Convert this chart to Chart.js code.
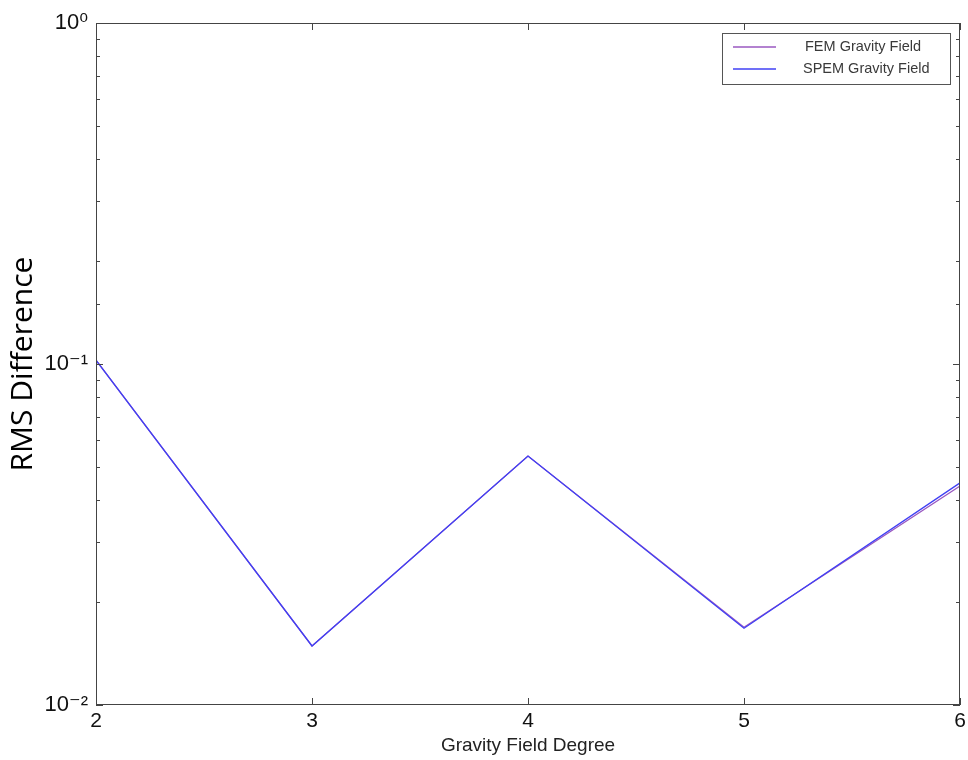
<!DOCTYPE html>
<html lang="en">
<head>
    <meta charset="UTF-8">
    <title>RMS Difference vs Gravity Field Degree</title>
    <style>
        body {
            margin: 0;
            background-color: #fff;
        }

        #chart-container {
            width: 968px;
            height: 760px;
            position: relative;
        }
    </style>
</head>
<body>
    <div id="chart-container">
        <canvas id="rms-chart"></canvas>
    </div>

    <script src="https://cdn.jsdelivr.net/npm/chart.js"></script>

    <script>
        // values
        const degrees = [2, 3, 4, 5, 6];
        const femValues = [0.1027, 0.0149, 0.0537, 0.0169, 0.0439];
        const spemValues = [0.1027, 0.0149, 0.0537, 0.0168, 0.0448];
        const seriesNames = ['FEM Gravity Field', 'SPEM Gravity Field'];
        const yTickLabels = { 1: '10\u2070', 0.1: '10\u207B\u00B9', 0.01: '10\u207B\u00B2' };

        const toPoints = (vals) => degrees.map((d, i) => ({ x: d, y: vals[i] }));

        // box around plot, inward ticks, legend box (matlab look)
        const framePlugin = {
            id: 'frame',
            afterDraw(chart) {
                const ctx = chart.ctx;
                const area = chart.chartArea;
                const xs = chart.scales.x;
                const ys = chart.scales.y;
                ctx.save();
                ctx.strokeStyle = '#444';
                ctx.lineWidth = 1;
                ctx.strokeRect(area.left + 0.5, area.top + 0.5, area.right - area.left - 1, area.bottom - area.top - 1);

                ctx.beginPath();
                degrees.forEach(d => {
                    const px = Math.round(xs.getPixelForValue(d)) + 0.5;
                    ctx.moveTo(px, area.bottom); ctx.lineTo(px, area.bottom - 7);
                    ctx.moveTo(px, area.top); ctx.lineTo(px, area.top + 7);
                });
                ys.ticks.forEach(t => {
                    const py = Math.round(ys.getPixelForValue(t.value)) + 0.5;
                    const len = yTickLabels[t.value] ? 7 : 4;
                    ctx.moveTo(area.left, py); ctx.lineTo(area.left + len, py);
                    ctx.moveTo(area.right, py); ctx.lineTo(area.right - len, py);
                });
                ctx.stroke();

                // legend
                const bx = 722, by = 33, bw = 228, bh = 51;
                ctx.fillStyle = '#fff';
                ctx.fillRect(bx, by, bw, bh);
                ctx.strokeStyle = '#555';
                ctx.strokeRect(bx + 0.5, by + 0.5, bw, bh);
                ctx.font = '14.5px "Liberation Sans Narrow", "Liberation Sans", Arial, sans-serif';
                ctx.textBaseline = 'middle';
                chart.data.datasets.forEach((ds, i) => {
                    const ly = by + 14 + i * 22;
                    ctx.strokeStyle = ds.borderColor;
                    ctx.lineWidth = 1.3;
                    ctx.beginPath();
                    ctx.moveTo(bx + 11, ly); ctx.lineTo(bx + 54, ly);
                    ctx.stroke();
                    ctx.fillStyle = '#3a3a3a';
                    ctx.fillText(ds.label, bx + 83 - i * 2, ly);
                });
                ctx.restore();
            }
        };

        const ctx = document.getElementById('rms-chart').getContext('2d');
        new Chart(ctx, {
            type: 'line',
            data: {
                datasets: [
                    {
                        label: seriesNames[0],
                        data: toPoints(femValues),
                        borderColor: '#9a58c0',
                        borderWidth: 1.3,
                        pointRadius: 0,
                        tension: 0,
                        order: 1
                    },
                    {
                        label: seriesNames[1],
                        data: toPoints(spemValues),
                        borderColor: '#4040f4',
                        borderWidth: 1.3,
                        pointRadius: 0,
                        tension: 0,
                        order: 0
                    }
                ]
            },
            options: {
                responsive: true,
                maintainAspectRatio: false,
                animation: false,
                layout: { padding: { top: 23, right: 8, left: 0, bottom: 0 } },
                plugins: {
                    legend: { display: false },
                    tooltip: { enabled: false }
                },
                scales: {
                    x: {
                        type: 'linear',
                        min: 2,
                        max: 6,
                        grid: { display: false, drawTicks: false },
                        border: { display: false },
                        afterFit: (s) => { s.height = 55; s.paddingRight = 0; s.paddingLeft = 0; },
                        ticks: {
                            stepSize: 1,
                            padding: 4,
                            color: '#111',
                            font: { family: '"Liberation Sans", Arial, sans-serif', size: 21 }
                        },
                        title: {
                            display: true,
                            text: 'Gravity Field Degree',
                            color: '#222',
                            padding: { top: 3, bottom: 3 },
                            font: { family: '"Liberation Sans", Arial, sans-serif', size: 19 }
                        }
                    },
                    y: {
                        type: 'logarithmic',
                        min: 0.01,
                        max: 1,
                        grid: { display: false, drawTicks: false },
                        border: { display: false },
                        afterFit: (s) => { s.width = 96; },
                        ticks: {
                            padding: 8,
                            color: '#111',
                            autoSkip: false,
                            font: { family: '"Liberation Sans", "DejaVu Sans", Arial, sans-serif', size: 22 },
                            callback: (v) => yTickLabels[v] || ''
                        },
                        title: {
                            display: true,
                            text: 'RMS Difference',
                            color: '#000',
                            padding: { top: 5, bottom: 4 },
                            font: { family: '"Open Sans", sans-serif', size: 30 }
                        }
                    }
                }
            },
            plugins: [framePlugin]
        });
    </script>
</body>
</html>
